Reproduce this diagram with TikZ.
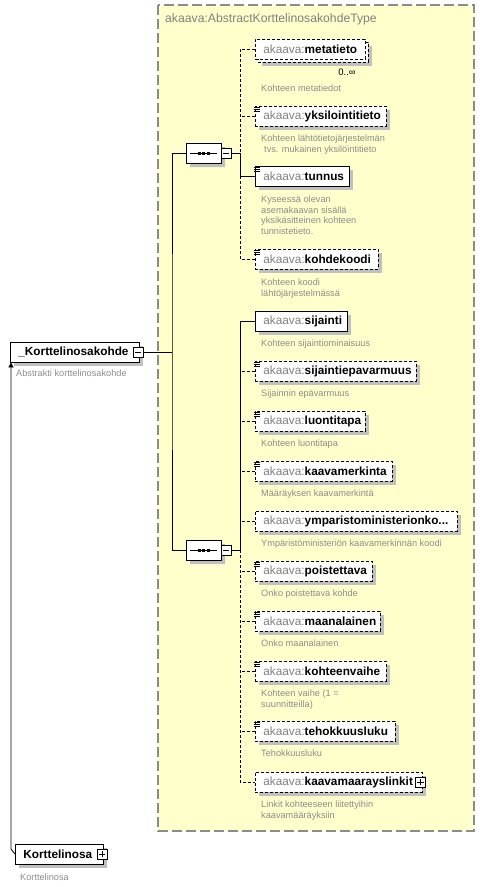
\documentclass[tikz,border=0pt]{standalone}
\usepackage{fontspec}
\setmainfont{Liberation Sans}
\usetikzlibrary{shapes.misc,shadows,arrows.meta}
\definecolor{typefill}{HTML}{FFFFCC}
\definecolor{typeborder}{HTML}{8C8C8C}
\definecolor{prefixgray}{HTML}{808080}
\definecolor{descgray}{HTML}{8C8C8C}
\definecolor{shadowgray}{HTML}{C0C0C0}
\newcommand{\elemtext}[2]{\makebox[#1][l]{\textcolor{prefixgray}{akaava:}\textbf{#2}}}
\newcommand{\desclines}[1]{\begin{tabular}[t]{@{}l@{}}#1\end{tabular}}
\begin{document}
\begin{tikzpicture}[x=1pt,y=-1pt,
    box/.style={draw,fill=white,line width=0.8pt,anchor=west,inner xsep=8pt,inner ysep=0pt,
      minimum height=20pt,font=\fontsize{11.8}{14}\selectfont},
    shade/.style={general shadow={fill=shadowgray,shadow xshift=4pt,shadow yshift=-4pt}},
    elem/.style={box,shade},
    optelem/.style={box,shade,dash pattern=on 3pt off 2pt},
    desc/.style={anchor=base west,inner sep=0pt,text=descgray,
      font=\fontsize{9.2}{10.7}\selectfont},
    link/.style={line width=0.8pt},
    optlink/.style={link,dash pattern=on 3pt off 2pt},
    toggle/.style={draw,fill=white,line width=0.8pt,minimum size=10pt,inner sep=0pt},
    seqbox/.style={chamfered rectangle,chamfered rectangle xsep=5pt,chamfered rectangle ysep=5pt,
      draw,fill=white,line width=0.8pt,minimum width=35pt,minimum height=20pt,inner sep=0pt,shade},
    facet/.style={line width=0.7pt}]
  \useasboundingbox (0,0) rectangle (485,887);
  % tyypin alue
  \draw[fill=typefill,draw=typeborder,line width=1.2pt,dash pattern=on 10pt off 4pt] (158,5) rectangle (474,831);
  \node[anchor=west,inner sep=0pt,text=prefixgray,font=\fontsize{12.2}{14}\selectfont] (typename) at (165,19) {akaava:AbstractKorttelinosakohdeType};

  % ylempi sekvenssi
  \node[optelem,minimum width=110pt] (metatietoback) at (258,52) {};
  \node[box,dash pattern=on 3pt off 2pt] (metatieto) at (255,49) {\elemtext{94pt}{metatieto}};
  \node[inner sep=0pt,font=\fontsize{9.5}{11}\selectfont] (metatietonum) at (347,72) {0..∞};
  \node[desc] (metatietodesc) at (261,91.3) {Kohteen metatiedot};
  \node[optelem] (yksilointitieto) at (255,116) {\elemtext{115pt}{yksilointitieto}};
  \node[desc] (yksilointitietodesc) at (261,141.3) {\desclines{Kohteen lähtötietojärjestelmän\\\hspace*{3pt}tvs. mukainen yksilöintitieto}};
  \node[elem] (tunnus) at (255,176) {\elemtext{78pt}{tunnus}};
  \node[desc] (tunnusdesc) at (261,202.3) {\desclines{Kyseessä olevan\\asemakaavan sisällä\\yksikäsitteinen kohteen\\tunnistetieto.}};
  \node[optelem] (kohdekoodi) at (255,259) {\elemtext{107pt}{kohdekoodi}};
  \node[desc] (kohdekoodidesc) at (261,285.3) {\desclines{Kohteen koodi\\lähtöjärjestelmässä}};
  \node[seqbox] (seqA) at (203.5,153) {};
  \node[toggle] (seqAtoggle) at (226,153) {};

  % alempi sekvenssi
  \node[elem] (sijainti) at (255,321) {\elemtext{76pt}{sijainti}};
  \node[desc] (sijaintidesc) at (261,346.3) {Kohteen sijaintiominaisuus};
  \node[optelem] (sijaintiepavarmuus) at (255,371) {\elemtext{145pt}{sijaintiepavarmuus}};
  \node[desc] (sijaintiepavarmuusdesc) at (261,396.3) {Sijainnin epävarmuus};
  \node[optelem] (luontitapa) at (255,421) {\elemtext{94pt}{luontitapa}};
  \node[desc] (luontitapadesc) at (261,446.3) {Kohteen luontitapa};
  \node[optelem] (kaavamerkinta) at (255,471) {\elemtext{121pt}{kaavamerkinta}};
  \node[desc] (kaavamerkintadesc) at (261,496.3) {Määräyksen kaavamerkintä};
  \node[optelem] (ymparisto) at (255,521) {\elemtext{186pt}{ymparistoministerionko...}};
  \node[desc] (ymparistodesc) at (261,546.3) {Ympäristöministeriön kaavamerkinnän koodi};
  \node[optelem] (poistettava) at (255,571) {\elemtext{101pt}{poistettava}};
  \node[desc] (poistettavadesc) at (261,596.3) {Onko poistettava kohde};
  \node[optelem] (maanalainen) at (255,621) {\elemtext{109pt}{maanalainen}};
  \node[desc] (maanalainendesc) at (261,646.3) {Onko maanalainen};
  \node[optelem] (kohteenvaihe) at (255,671) {\elemtext{115pt}{kohteenvaihe}};
  \node[desc] (kohteenvaihedesc) at (261,696.3) {\desclines{Kohteen vaihe (1 =\\suunnitteilla)}};
  \node[optelem] (tehokkuusluku) at (255,731) {\elemtext{124pt}{tehokkuusluku}};
  \node[desc] (tehokkuuslukudesc) at (261,756.3) {Tehokkuusluku};
  \node[optelem] (kaavamaarayslinkit) at (255,782) {\elemtext{151pt}{kaavamaarayslinkit}};
  \node[toggle] (linkittoggle) at (420.5,782) {};
  \node[desc] (kaavamaarayslinkitdesc) at (261,807.3) {\desclines{Linkit kohteeseen liitettyihin\\kaavamääräyksiin}};
  \node[seqbox] (seqB) at (203.5,550) {};
  \node[toggle] (seqBtoggle) at (226,550) {};

  % abstrakti elementti ja periytyvä
  \node[elem] (kohde) at (10,352) {\makebox[113pt][l]{\textbf{\_Korttelinosakohde}}};
  \node[toggle] (kohdetoggle) at (138,352) {};
  \node[desc] (kohdedesc) at (16,376.3) {Abstrakti korttelinosakohde};
  \node[elem] (osa) at (15,854) {\makebox[72pt][l]{\textbf{Korttelinosa}}};
  \node[toggle] (osatoggle) at (102,854) {};
  \node[desc] (osadesc) at (20,880.3) {Korttelinosa};

  % liitokset
  \coordinate (railA) at (240,153);
  \coordinate (railB) at (240,550);
  \coordinate (spine) at (172,352);
  \coordinate (bend) at (11,849);
  \draw[optlink] (metatieto.west) -| (railA);
  \draw[link] (seqAtoggle.east) -- (railA) |- (tunnus.west);
  \draw[optlink] (yksilointitieto.west) -- (railA |- yksilointitieto.west);
  \draw[optlink] (railA |- tunnus.west) |- (kohdekoodi.west);
  \draw[link] (sijainti.west) -| (railB) -- (seqBtoggle.east);
  \draw[optlink] (railB) |- (kaavamaarayslinkit.west);
  \foreach \n in {sijaintiepavarmuus,luontitapa,kaavamerkinta,ymparisto,poistettava,maanalainen,kohteenvaihe,tehokkuusluku}
    \draw[optlink] (\n.west) -- (railB |- \n.west);
  \draw[link] (seqA.west) -| (spine) |- (seqB.west);
  \draw[link] (kohdetoggle.east) -- (spine);
  \draw[link,-{Triangle[length=5pt,width=5pt]}] (osa.west) -- (bend) -- (bend |- kohde.south);

  % merkit
  \foreach \s in {seqA,seqB} {
    \draw[link] ([xshift=4pt]\s.west) -- ([xshift=-4pt]\s.east);
    \foreach \d in {-4.5,0,4.5}
      \fill ([xshift=\d pt]\s.center) ++(-1.5,-1.5) rectangle ++(3,3);
  }
  \foreach \t in {seqAtoggle,seqBtoggle,kohdetoggle,linkittoggle,osatoggle}
    \draw[link] ([xshift=2pt]\t.west) -- ([xshift=-2pt]\t.east);
  \foreach \t in {linkittoggle,osatoggle}
    \draw[link] ([yshift=2pt]\t.south) -- ([yshift=-2pt]\t.north);
  \foreach \n in {yksilointitieto,tunnus,kohdekoodi,sijaintiepavarmuus,luontitapa,kaavamerkinta,poistettava,maanalainen,kohteenvaihe,tehokkuusluku}
    \foreach \k in {1.3,3.3,5.3}
      \draw[facet] ([shift={(-1.5pt,-\k pt)}]\n.north west) -- ++(6,0);
\end{tikzpicture}
\end{document}
